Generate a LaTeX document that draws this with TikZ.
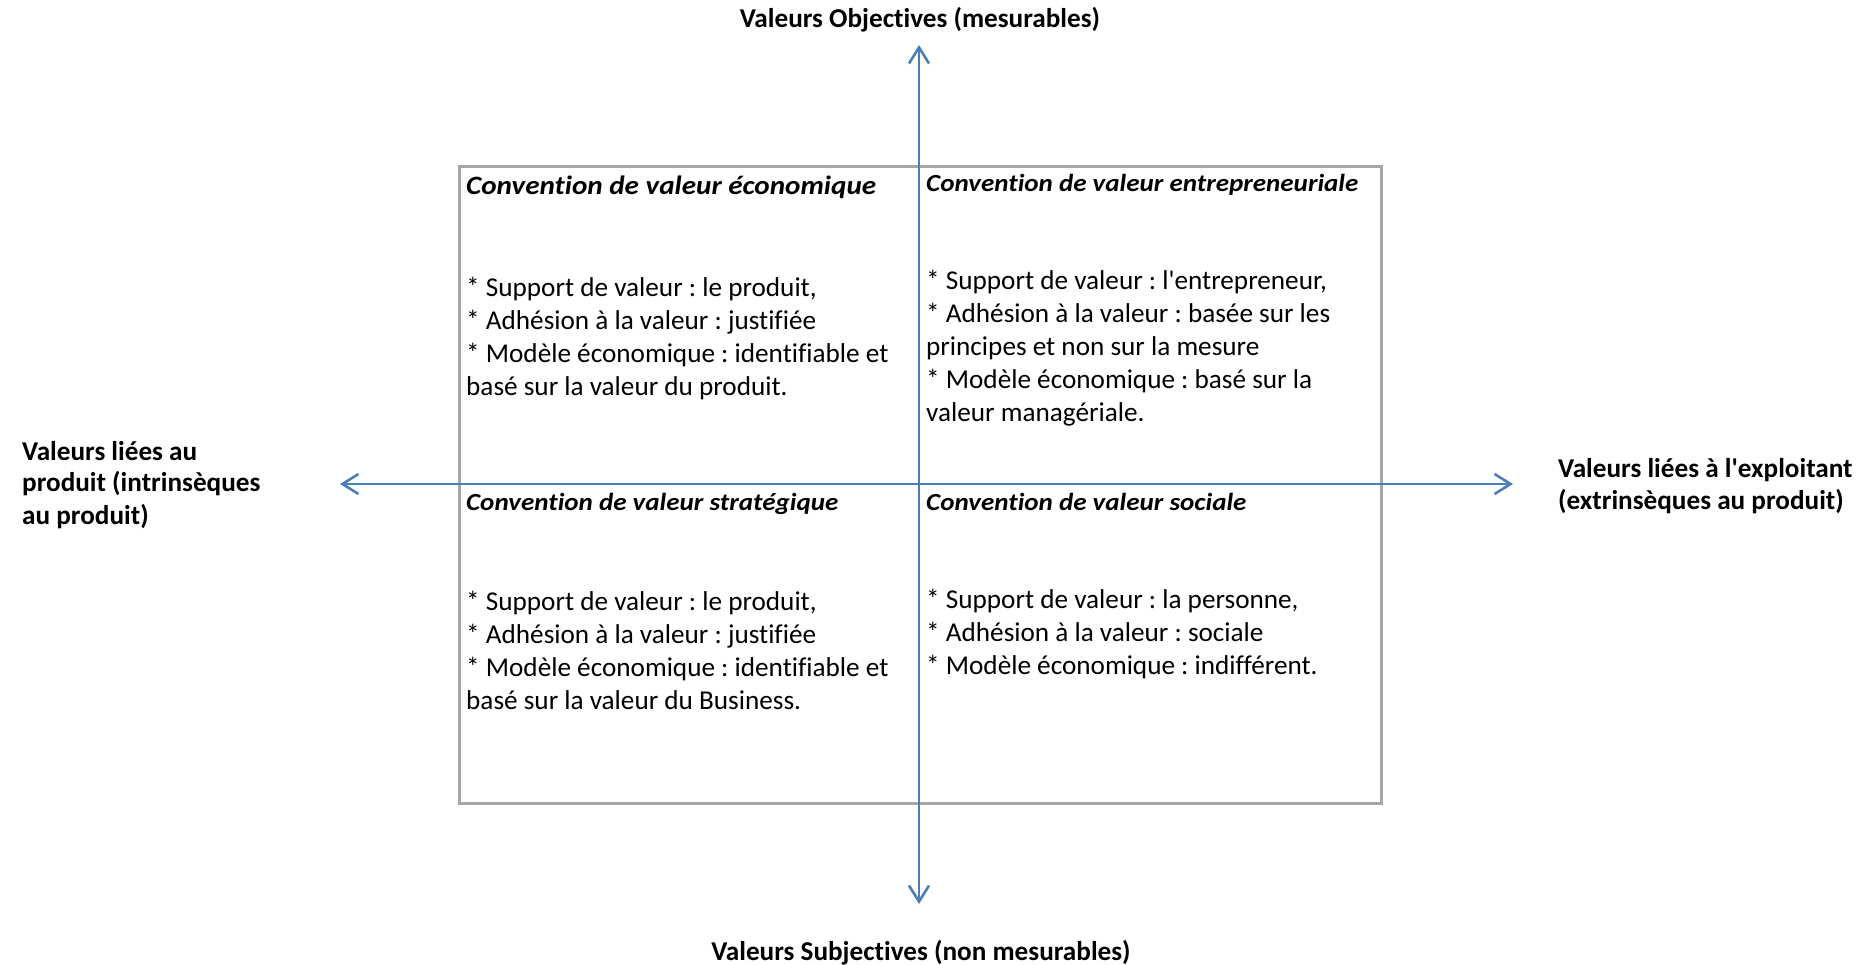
\documentclass[tikz,border=0pt]{standalone}
\usepackage{fontspec}
\setmainfont{Carlito}[Ligatures=NoCommon]
\usetikzlibrary{arrows.meta}
\definecolor{axisblue}{HTML}{4A7EBB}
\definecolor{boxgray}{HTML}{A6A6A6}
\newcommand{\ap}{\textquotesingle}
\begin{document}
\begin{tikzpicture}[x=1pt,y=-1pt,
  axis/.style={draw=axisblue,line width=2.6pt,-{Straight Barb[length=16pt,width=20pt,line width=2.6pt]}},
  frame/.style={draw=boxgray,line width=3pt},
  body/.style={anchor=base west,inner sep=0pt,font=\frenchspacing\fontsize{27.2}{33}\selectfont},
  title/.style={anchor=base west,inner sep=0pt,font=\frenchspacing\fontsize{24.6}{33}\selectfont\bfseries\itshape\addfontfeature{FakeStretch=1.1}},
  bigtitle/.style={title,font=\frenchspacing\fontsize{26.5}{33}\selectfont\bfseries\itshape\addfontfeature{FakeStretch=1.1}},
  axlabel/.style={inner sep=0pt,font=\frenchspacing\fontsize{27.2}{32}\selectfont\bfseries}]
\useasboundingbox (0,0) rectangle (1874,965);
\draw[frame] (459,167) rectangle (1381,803);
% axis endpoints
\coordinate (c) at (919,484);
\coordinate (top) at (919,45);
\coordinate (bot) at (919,904);
\coordinate (lft) at (340,484);
\coordinate (rgt) at (1513,484);
\draw[axis] (c) -- (top);
\draw[axis] (c) -- (bot);
\draw[axis] (c) -- (lft);
\draw[axis] (c) -- (rgt);
% titles
\node[bigtitle] (t1) at (466,195) {Convention de valeur économique};
\node[title] (t2) at (926,192) {Convention de valeur entrepreneuriale};
\node[title] (t3) at (466,510) {Convention de valeur stratégique};
\node[title] (t4) at (926,510) {Convention de valeur sociale};
% bodies
\node[body] (b1) at (466,297) {\begin{tabular}[t]{@{}l@{}}* Support de valeur : le produit,\\{}* Adhésion à la valeur : justifiée\\{}* Modèle économique : identifiable et\\basé sur la valeur du produit.\end{tabular}};
\node[body] (b2) at (926,290) {\begin{tabular}[t]{@{}l@{}}* Support de valeur : l\ap entrepreneur,\\{}* Adhésion à la valeur : basée sur les\\principes et non sur la mesure\\{}* Modèle économique : basé sur la\\valeur managériale.\end{tabular}};
\node[body] (b3) at (466,610) {\begin{tabular}[t]{@{}l@{}}* Support de valeur : le produit,\\{}* Adhésion à la valeur : justifiée\\{}* Modèle économique : identifiable et\\basé sur la valeur du Business.\end{tabular}};
\node[body] (b4) at (926,608) {\begin{tabular}[t]{@{}l@{}}* Support de valeur : la personne,\\{}* Adhésion à la valeur : sociale\\{}* Modèle économique : indifférent.\end{tabular}};
% axis labels
\node[axlabel,anchor=base] (lt) at (920,28) {Valeurs Objectives (mesurables)};
\node[axlabel,anchor=base] (lb) at (921,960) {Valeurs Subjectives (non mesurables)};
\node[axlabel,anchor=base west] (ll) at (22,460) {\begin{tabular}[t]{@{}l@{}}Valeurs liées au\\produit (intrinsèques\\au produit)\end{tabular}};
\node[axlabel,anchor=base west] (lr) at (1558,477) {\begin{tabular}[t]{@{}l@{}}Valeurs liées à l\ap exploitant\\(extrinsèques au produit)\end{tabular}};
\end{tikzpicture}
\end{document}
